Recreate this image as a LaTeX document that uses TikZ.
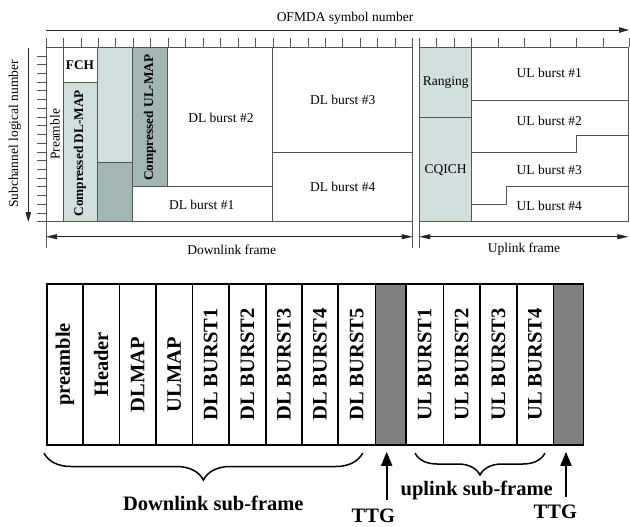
\documentclass[tikz,border=0pt]{standalone}
\usepackage{fontspec}
\setmainfont{Liberation Serif}
\usetikzlibrary{arrows.meta,decorations.pathreplacing}

\definecolor{lightcell}{HTML}{D3DFDF}
\definecolor{darkcell}{HTML}{A3B6B6}
\definecolor{framegray}{HTML}{555555}
\definecolor{gapgray}{HTML}{808080}

\tikzstyle{frm} = [draw=framegray, line width=0.8pt]
\tikzstyle{axisarrow} = [draw=black!85, line width=0.8pt, -{Triangle[length=10pt,width=5.5pt]}]
\tikzstyle{framearrow} = [draw=black!85, line width=0.8pt, {Triangle[length=11pt,width=5pt]}-{Triangle[length=11pt,width=5pt]}]
\tikzstyle{lbl} = [font=\fontsize{13.5}{14}\selectfont, inner sep=0pt]
\tikzstyle{blbl} = [font=\fontsize{13.3}{14}\selectfont\bfseries, inner sep=0pt]
\tikzstyle{cell} = [draw, line width=1.6pt, minimum width=161pt, rotate=90, inner sep=0pt, font=\fontsize{20.5}{21}\selectfont\bfseries]
\tikzstyle{gapcell} = [cell, fill=gapgray]
\tikzstyle{bigtxt} = [font=\fontsize{20.5}{21}\selectfont\bfseries, inner sep=0pt]
\tikzstyle{ttgarrow} = [line width=1.8pt, -{Triangle[length=14pt,width=11pt]}]
\tikzstyle{subbrace} = [line width=1.5pt, decorate, decoration={brace, mirror}]

\begin{document}
\begin{tikzpicture}[x=1pt, y=-1pt]
\useasboundingbox (0,0) rectangle (630,527);

% frame of the OFDMA time-frequency plane
\fill[lightcell] (63.3,82.3) rectangle (97.7,221.7);
\fill[lightcell] (97.7,47) rectangle (132.7,162.7);
\fill[darkcell] (97.7,162.7) rectangle (132.7,221.7);
\fill[darkcell] (132.7,47) rectangle (167.3,186.7);
\fill[lightcell] (419.3,47) rectangle (471.7,221.7);

\draw[frm] (46,38) -- (46,248);
\draw[frm] (412.7,39) -- (412.7,248);
\draw[frm] (419.3,39) -- (419.3,248);
\draw[frm] (46,47) -- (412.7,47) (419.3,47) -- (628.3,47);
\draw[frm] (46,221.7) -- (412.7,221.7) (419.3,221.7) -- (628.3,221.7);
\draw[frm] (628.3,47) -- (628.3,221.7);
\draw[frm] (63.3,47) -- (63.3,221.7);
\draw[frm] (97.7,47) -- (97.7,221.7);
\draw[frm] (132.7,47) -- (132.7,221.7);
\draw[frm] (167.3,47) -- (167.3,186.7);
\draw[frm] (272.7,47) -- (272.7,221.7);
\draw[frm] (471.7,47) -- (471.7,221.7);
\draw[frm] (63.3,82.3) -- (97.7,82.3);
\draw[frm] (97.7,162.7) -- (132.7,162.7);
\draw[frm] (132.7,186.7) -- (272.7,186.7);
\draw[frm] (272.7,152.7) -- (412.7,152.7);
\draw[frm] (419.3,117.7) -- (471.7,117.7);
\draw[frm] (471.7,100) -- (628.3,100);
\draw[frm] (471.7,152.7) -- (576,152.7) -- (576,135) -- (628.3,135);
\draw[frm] (471.7,204.3) -- (506.7,204.3) -- (506.7,186.7) -- (628.3,186.7);

\foreach \k in {0,...,21}
  \draw[frm] ({46+\k*17.46},38) -- ({46+\k*17.46},47);
\foreach \k in {0,...,3}
  \draw[frm] ({419.3+\k*17.47},38) -- ({419.3+\k*17.47},47);
\foreach \k in {1,...,6}
  \draw[frm] ({471.7+\k*26.27},38) -- ({471.7+\k*26.27},47);
\foreach \k in {0,...,19}
  \draw[frm] (37,{56+\k*8.72}) -- (46,{56+\k*8.72});

\coordinate (symL) at (46,30);
\coordinate (symR) at (629,30);
\coordinate (subT) at (28.3,48);
\coordinate (subB) at (28.3,222);
\draw[axisarrow] (symL) -- (symR);
\draw[axisarrow] (subT) -- (subB);
\coordinate (dlfL) at (46,236.7);
\coordinate (dlfR) at (412.7,236.7);
\coordinate (ulfL) at (419.3,236.7);
\coordinate (ulfR) at (628.3,236.7);
\draw[framearrow] (dlfL) -- (dlfR);
\draw[framearrow] (ulfL) -- (ulfR);

\node[lbl] (symnum) at (345,18) {OFMDA symbol number};
\node[lbl, rotate=90] (subnum) at (15,134) {Subchannel logical number};
\node[lbl, rotate=90] (pre) at (55,134.5) {Preamble};
\node[blbl] (fch) at (80,65) {FCH};
\node[blbl, rotate=90] (cdlmap) at (80,153.3) {Compressed DL-MAP};
\node[blbl, rotate=90] (culmap) at (150,117.5) {Compressed UL-MAP};
\node[lbl] (dl2) at (221,118.3) {DL burst \#2};
\node[lbl] (dl1) at (201.7,205) {DL burst \#1};
\node[lbl] (dl3) at (342.7,100) {DL burst \#3};
\node[lbl] (dl4) at (342.7,186.7) {DL burst \#4};
\node[lbl] (rng) at (445.7,82.7) {Ranging};
\node[lbl] (cqich) at (445.7,170) {CQICH};
\node[lbl] (ul1) at (549.3,73.3) {UL burst \#1};
\node[lbl] (ul2) at (549.3,121) {UL burst \#2};
\node[lbl] (ul3) at (549.3,170) {UL burst \#3};
\node[lbl] (ul4) at (549.3,206) {UL burst \#4};
\node[lbl] (dlframe) at (231.7,249.5) {Downlink frame};
\node[lbl] (ulframe) at (524,249.5) {Uplink frame};

% simplified frame below
\foreach \c/\w/\t [count=\i] in {64.85/36.3/preamble, 101.15/36.3/Header,
    137.65/36.7/{DLMAP\hspace*{20pt}}, 174.25/36.5/{ULMAP\hspace*{20pt}},
    210.75/36.5/DL BURST1, 247.35/36.7/DL BURST2, 283.85/36.3/DL BURST3,
    320/36/DL BURST4, 356.75/37.5/DL BURST5,
    424.65/37.3/UL BURST1, 461.65/36.7/UL BURST2, 498.35/36.7/UL BURST3,
    535/36.6/UL BURST4}
  \node[cell, minimum height=\w pt] (b\i) at (\c,364.5) {\t};
\node[gapcell, minimum height=30.5pt] (g1) at (390.75,364.5) {};
\node[gapcell, minimum height=30pt] (g2) at (568.3,364.5) {};

\coordinate (dlbL) at (44,453);
\coordinate (dlbR) at (362.7,453);
\coordinate (ulbL) at (415,453);
\coordinate (ulbR) at (545,453);
\draw[subbrace, decoration={amplitude=27pt}] (dlbL) -- (dlbR);
\draw[subbrace, decoration={amplitude=22pt}] (ulbL) -- (ulbR);
\node[bigtxt] (dlsub) at (213.3,503.3) {Downlink sub-frame};
\node[bigtxt] (ulsub) at (476.7,490) {uplink sub-frame};

\coordinate (ttgA) at (386.7,500);
\coordinate (ttgB) at (566,496.7);
\draw[ttgarrow, shorten >=6pt] (ttgA) -- (ttgA |- g1.west);
\draw[ttgarrow, shorten >=6pt] (ttgB) -- (ttgB |- g2.west);
\node[bigtxt] (ttg1) at (373.3,516) {TTG};
\node[bigtxt] (ttg2) at (555.3,511.7) {TTG};
\end{tikzpicture}
\end{document}
